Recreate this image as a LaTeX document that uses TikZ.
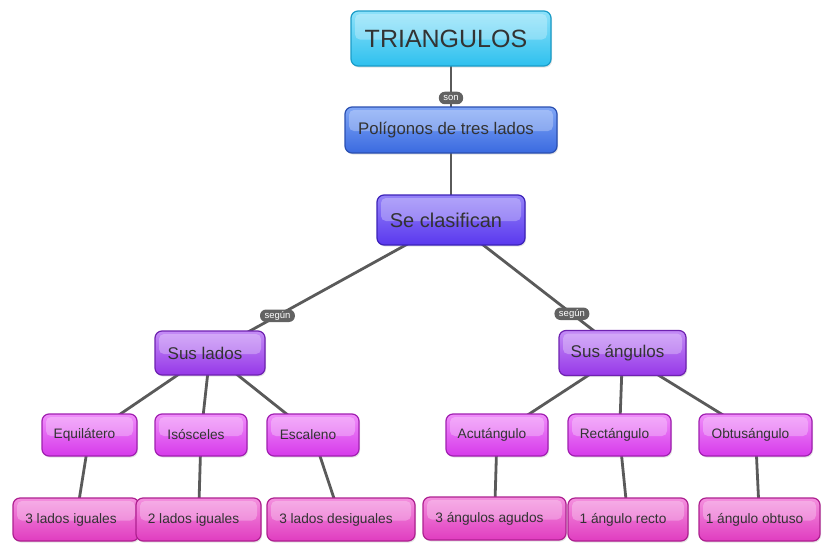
\documentclass[tikz,border=0pt]{standalone}
\usepackage{fontspec}
\setmainfont{Liberation Sans}
\usetikzlibrary{shadows,backgrounds}
\definecolor{textc}{HTML}{333333}
\definecolor{linec}{HTML}{5A5A5A}
\definecolor{labc}{HTML}{626262}
\tikzset{
  box/.style={rounded corners=7pt, line width=1.2pt, text=textc, inner sep=0pt, align=center,
    execute at end node={\hspace*{10pt}},
    drop shadow={opacity=0.22, shadow xshift=1pt, shadow yshift=-1.5pt},
    path picture={\fill[white,opacity=0.28,rounded corners=5pt]
      ([xshift=4pt,yshift=-3pt]path picture bounding box.north west) rectangle
      ([xshift=-4pt,yshift=-1pt]path picture bounding box.east);}},
  lv0/.style={box, draw=c0d, top color=c0l, bottom color=c0b, font=\fontsize{25}{28}\selectfont},
  lv1/.style={box, draw=c1d, top color=c1l, bottom color=c1b, font=\fontsize{16.8}{19}\selectfont},
  lv2/.style={box, draw=c2d, top color=c2l, bottom color=c2b, font=\fontsize{20}{23}\selectfont},
  lv3/.style={box, draw=c3d, top color=c3l, bottom color=c3b, font=\fontsize{17}{20}\selectfont},
  lv4/.style={box, draw=c4d, top color=c4l, bottom color=c4b, font=\fontsize{13.7}{16}\selectfont, minimum height=42pt},
  lv5/.style={box, draw=c5d, top color=c5l, bottom color=c5b, font=\fontsize{13.7}{16}\selectfont, minimum height=43pt},
  conn/.style={draw=linec, line width=2.8pt},
  lab/.style={fill=labc, text=white, rounded corners=6pt, inner xsep=4.5pt, inner ysep=0pt,
    minimum height=12.5pt, font=\fontsize{9.5}{10}\selectfont}
}
\definecolor{c0l}{HTML}{8EE2FA}\definecolor{c0b}{HTML}{2EC0EE}\definecolor{c0d}{HTML}{1A9CC8}
\definecolor{c1l}{HTML}{80A6F6}\definecolor{c1b}{HTML}{3A6AE0}\definecolor{c1d}{HTML}{2A4FB0}
\definecolor{c2l}{HTML}{9482F8}\definecolor{c2b}{HTML}{5A38EE}\definecolor{c2d}{HTML}{3C22B8}
\definecolor{c3l}{HTML}{C48CF6}\definecolor{c3b}{HTML}{9638E8}\definecolor{c3d}{HTML}{6E22B0}
\definecolor{c4l}{HTML}{F08EFA}\definecolor{c4b}{HTML}{D63AEA}\definecolor{c4d}{HTML}{A020B0}
\definecolor{c5l}{HTML}{F490DE}\definecolor{c5b}{HTML}{E03CC0}\definecolor{c5d}{HTML}{AE2090}
\begin{document}
\begin{tikzpicture}[x=1pt,y=-1pt]
\useasboundingbox (0,0) rectangle (840,552);
\node[lv0, minimum width=200pt, minimum height=55pt] (t0) at (451,38.5) {TRIANGULOS};
\node[lv1, minimum width=212pt, minimum height=46pt] (t1) at (451,130) {Polígonos de tres lados};
\node[lv2, minimum width=148pt, minimum height=50pt] (t2) at (451,220) {Se clasifican};
\node[lv3, minimum width=110pt, minimum height=44pt] (l) at (210,353) {Sus lados};
\node[lv3, minimum width=127pt, minimum height=45pt] (r) at (622.5,353) {Sus ángulos};
\node[lv4, minimum width=95pt] (a1) at (89.5,435) {Equilátero};
\node[lv4, minimum width=92pt] (a2) at (201,435) {Isósceles};
\node[lv4, minimum width=92pt] (a3) at (313,435) {Escaleno};
\node[lv4, minimum width=102pt] (b1) at (497,435) {Acutángulo};
\node[lv4, minimum width=103pt] (b2) at (619.5,435) {Rectángulo};
\node[lv4, minimum width=113pt] (b3) at (755.5,435) {Obtusángulo};
\node[lv5, minimum width=126pt] (c1) at (76,519.5) {3 lados iguales};
\node[lv5, minimum width=125pt] (c2) at (198.5,519.5) {2 lados iguales};
\node[lv5, minimum width=148pt] (c3) at (341,519.5) {3 lados desiguales};
\node[lv5, minimum width=143pt] (d1) at (494.5,518.5) {3 ángulos agudos};
\node[lv5, minimum width=120pt] (d2) at (628,519.5) {1 ángulo recto};
\node[lv5, minimum width=121pt] (d3) at (759.5,519.5) {1 ángulo obtuso};
\begin{pgfonlayer}{background}
\path[conn] (t0.center) -- node[lab, pos=0.65] {son} (t1.center);
\path[conn] (t1.center) -- (t2.center);
\path[conn] (t2.center) -- node[lab, pos=0.72] {según} (l.center);
\path[conn] (t2.center) -- node[lab, pos=0.705] {según} (r.center);
\path[conn] (l.center) -- (a1.center);
\path[conn] (l.center) -- (a2.center);
\path[conn] (l.center) -- (a3.center);
\path[conn] (r.center) -- (b1.center);
\path[conn] (r.center) -- (b2.center);
\path[conn] (r.center) -- (b3.center);
\path[conn] (a1.center) -- (c1.center);
\path[conn] (a2.center) -- (c2.center);
\path[conn] (a3.center) -- (c3.center);
\path[conn] (b1.center) -- (d1.center);
\path[conn] (b2.center) -- (d2.center);
\path[conn] (b3.center) -- (d3.center);
\end{pgfonlayer}
\end{tikzpicture}
\end{document}
